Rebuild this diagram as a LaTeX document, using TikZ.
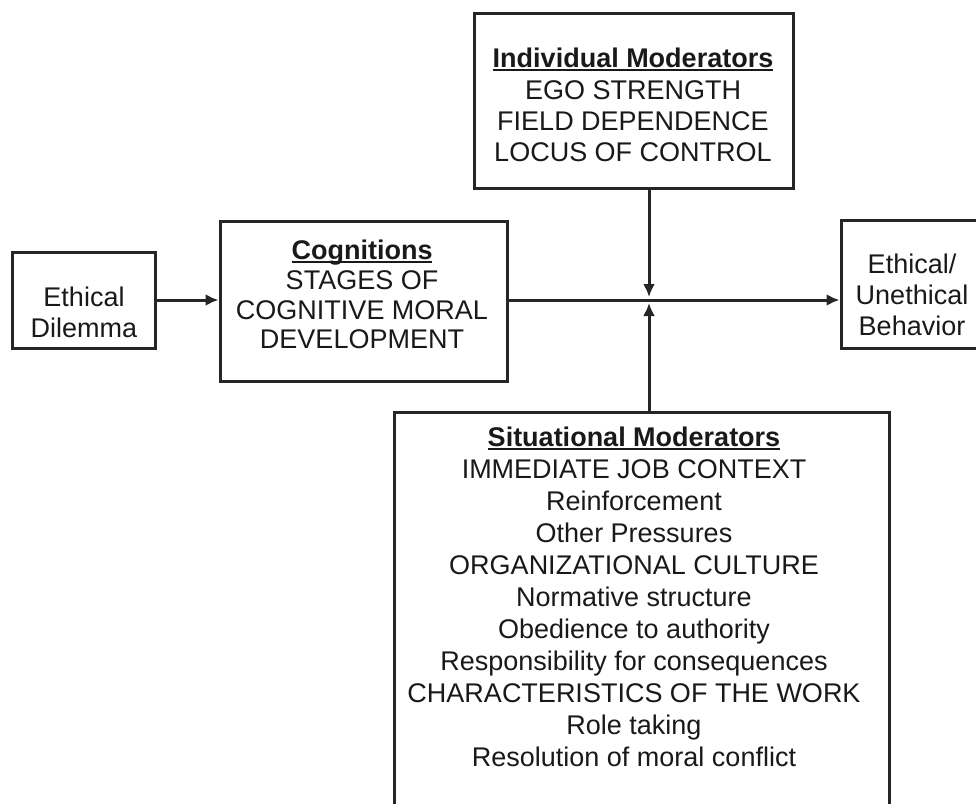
\documentclass[tikz,border=0pt]{standalone}
\usepackage{fontspec}
\setmainfont{Liberation Sans}
\usetikzlibrary{arrows.meta}
\newcommand\ulbox[1]{{\setbox0\hbox{\bfseries #1}\rlap{\rule[-3pt]{\wd0}{1.8pt}}\box0}}
\newcommand\firstln{\rule{0pt}{21pt}}
\begin{document}
\begin{tikzpicture}[x=1pt,y=-1pt,
  box/.style={draw=black!85, line width=3pt, rectangle, inner sep=0pt},
  txt/.style={align=center, inner sep=0pt, anchor=north, text=black!90},
  arr/.style={line width=3pt, draw=black!85, -{Latex[length=13pt,width=12pt]}}]
\useasboundingbox (0,0) rectangle (976,803);
% boxes
\node[box, minimum width=143pt, minimum height=96pt] (dil) at (83.5,300) {};
\node[box, minimum width=287pt, minimum height=160pt] (cog) at (363.5,301) {};
\node[box, minimum width=319pt, minimum height=175pt] (ind) at (633.5,100.5) {};
\node[box, minimum width=144pt, minimum height=128pt] (beh) at (913,284) {};
\node[box, minimum width=495pt, minimum height=428pt] (sit) at (641.5,626) {};
% texts
\node[txt, font=\fontsize{27}{31}\selectfont] (tdil) at (84,285.7)
  {\firstln Ethical\\Dilemma};
\node[txt, font=\fontsize{27}{29.6}\selectfont] (tcog) at (362,238.7)
  {\firstln\ulbox{Cognitions}\\STAGES OF\\COGNITIVE MORAL\\DEVELOPMENT};
\node[txt, font=\fontsize{27}{31.3}\selectfont] (tind) at (633,46.7)
  {\firstln\ulbox{Individual Moderators}\\EGO STRENGTH\\FIELD DEPENDENCE\\LOCUS OF CONTROL};
\node[txt, font=\fontsize{27}{31}\selectfont] (tbeh) at (912,252.7)
  {\firstln Ethical/\\Unethical\\Behavior};
\node[txt, font=\fontsize{27}{32}\selectfont] (tsit) at (634,425.7)
  {\firstln\ulbox{Situational Moderators}\\IMMEDIATE JOB CONTEXT\\Reinforcement\\Other Pressures\\ORGANIZATIONAL CULTURE\\Normative structure\\Obedience to authority\\Responsibility for consequences\\CHARACTERISTICS OF THE WORK\\Role taking\\Resolution of moral conflict};
% connectors
\coordinate (j) at (649,300);
\coordinate (jt) at (649,297);
\coordinate (jb) at (649,303);
\draw[arr] (dil.east) -- (cog.west |- dil.east);
\draw[arr] (cog.east |- j) -- (beh.west |- j);
\draw[arr] (ind.south -| j) -- (jt);
\draw[arr] (sit.north -| j) -- (jb);
\end{tikzpicture}
\end{document}
